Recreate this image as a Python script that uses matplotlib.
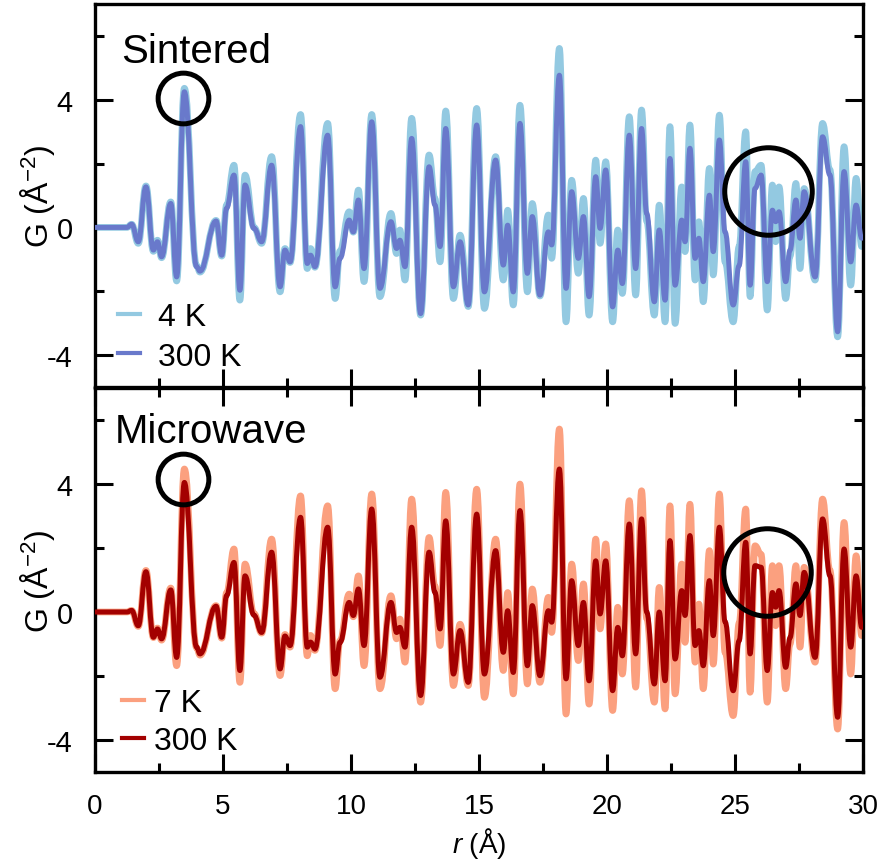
import matplotlib
matplotlib.use("Agg")
import matplotlib.pyplot as plt
from matplotlib.path import Path
from matplotlib.patches import PathPatch
from matplotlib.lines import Line2D
from matplotlib.ticker import MultipleLocator

plt.rcParams['font.family'] = ['Liberation Sans', 'DejaVu Sans']
plt.rcParams['mathtext.fontset'] = 'custom'
plt.rcParams['mathtext.rm'] = 'Liberation Sans'
plt.rcParams['mathtext.it'] = 'Liberation Sans:italic'
plt.rcParams['mathtext.bf'] = 'Liberation Sans:bold'
plt.rcParams['axes.unicode_minus'] = False

# ---------------- data (extrema) ----------------
r_sint = [0.0, 1.25, 1.43, 1.69, 1.99, 2.28, 2.44, 2.60, 2.96, 3.19, 3.49, 3.97, 4.10, 4.73, 4.95,
          5.14, 5.43, 5.66, 5.86, 6.21, 6.51, 6.90, 7.23, 7.42, 7.62, 8.03, 8.29, 8.42, 8.59, 9.09,
          9.38, 9.57, 9.93, 10.09, 10.29, 10.51, 10.81, 11.13, 11.56, 11.78, 11.91, 12.11, 12.37,
          12.72, 13.05, 13.28, 13.48, 13.70, 14.00, 14.26, 14.58, 14.91, 15.21, 15.65, 15.95, 16.12,
          16.34, 16.60, 16.89, 17.08, 17.38, 17.71, 17.84, 18.14, 18.40, 18.62, 18.88, 19.08, 19.30,
          19.56, 19.73, 19.95, 20.22, 20.42, 20.60, 20.87, 21.12, 21.35, 21.55, 21.85, 22.04, 22.27,
          22.46, 22.66, 22.92, 23.05, 23.24, 23.44, 23.59, 23.76, 24.00, 24.15, 24.39, 24.61, 24.93,
          25.16, 25.42, 25.59, 25.78, 26.02, 26.26, 26.46, 26.59, 26.72, 26.98, 27.15, 27.38, 27.54,
          27.70, 28.13, 28.42, 28.71, 29.01, 29.26, 29.52, 29.73, 29.95]
g_sint_300K = [0, 0, 0.1, -0.45, 1.27, -0.71, -0.45, -0.92, 0.75, -1.55, 4.25, -1.23, -1.37, 0.20, -0.87,
               0.60, 1.64, -1.97, 1.33, -0.03, -0.45, 1.95, -1.86, -0.71, -1.08, 3.16, -1.13, -0.87, -1.23, 2.89,
               -1.86, -0.97, 0.23, -0.14, 0.86, -1.29, 3.31, -1.91, 0.18, -0.66, -0.40, -1.23, 2.79,
               -2.70, 1.90, 0.70, -0.60, 3.10, -1.86, -0.45, -2.43, 3.21, -2.02, 2.11, -1.18, 0.07,
               -2.02, 3.26, -1.44, 0.34, -2.12, -0.14, -0.55, 4.77, -1.91, 1.12, -0.97, 0.34, -2.17,
               1.59, -0.03, 1.80, -2.49, -0.71, -1.76, 2.89, -1.29, 3.10, 0.44, -2.33, -0.08, -2.28,
               2.16, -1.81, 0.23, -0.45, 2.48, -0.97, -0.34, -1.70, 1.01, -0.76, 2.74, -0.14, -2.43,
               -1.20, 2.06, -1.81, 1.22, 1.64, -1.70, 0.54, 0.18, 0.49, -1.70, -0.71, 0.86, -0.34,
               1.12, -1.55, 2.84, 1.64, -3.27, 1.75, -1.08, 0.70, -0.34]
g_sint_4K = [0, 0, 0.1, -0.50, 1.30, -0.75, -0.40, -0.95, 0.80, -1.68, 4.36, -1.20, -1.40, 0.22, -0.90,
             0.70, 1.95, -2.28, 1.64, 0.00, -0.50, 2.22, -2.02, -0.66, -1.10, 3.54, -1.29, -0.66, -1.25, 3.26,
             -2.23, -0.74, 0.49, -0.15, 1.17, -1.70, 3.54, -2.17, 0.44, -0.82, -0.08, -1.65, 3.42,
             -2.75, 2.27, 0.90, -1.08, 3.65, -2.23, -0.24, -2.48, 3.73, -2.54, 2.22, -1.65, 0.54,
             -2.43, 3.83, -2.02, 0.75, -2.15, 0.39, -0.97, 5.61, -2.96, 1.48, -1.44, 0.91, -2.75,
             2.11, -0.50, 2.06, -2.96, -0.08, -2.07, 3.47, -2.12, 3.68, 0.20, -2.75, 0.70, -2.96,
             3.16, -3.01, 1.27, -0.76, 3.21, -1.65, 0.18, -2.33, 1.85, -1.49, 3.52, -1.08, -2.96,
             -0.60, 3.00, -2.17, 1.75, 1.95, -2.59, 1.33, -0.45, 1.27, -2.23, -0.90, 1.38, -1.29,
             1.22, -1.65, 3.26, 1.80, -3.43, 2.53, -1.81, 1.54, -0.60]

r_micro = [0.0, 1.25, 1.43, 1.69, 1.99, 2.28, 2.44, 2.60, 2.96, 3.19, 3.49, 3.97, 4.10, 4.73, 4.95,
           5.14, 5.43, 5.66, 5.86, 6.21, 6.51, 6.90, 7.23, 7.42, 7.62, 8.03, 8.29, 8.42, 8.59, 9.09,
           9.38, 9.57, 9.93, 10.09, 10.29, 10.51, 10.81, 11.13, 11.56, 11.78, 11.91, 12.11, 12.37,
           12.72, 13.05, 13.28, 13.48, 13.70, 14.00, 14.26, 14.58, 14.91, 15.21, 15.65, 15.95, 16.12,
           16.34, 16.60, 16.89, 17.08, 17.38, 17.71, 17.84, 18.14, 18.40, 18.62, 18.88, 19.08, 19.30,
           19.56, 19.73, 19.95, 20.22, 20.42, 20.60, 20.87, 21.12, 21.35, 21.55, 21.85, 22.04, 22.27,
           22.46, 22.66, 22.92, 23.05, 23.24, 23.44, 23.59, 23.76, 24.00, 24.15, 24.39, 24.61, 24.93,
           25.16, 25.42, 25.59, 25.78, 26.02, 26.26, 26.46, 26.59, 26.72, 26.98, 27.15, 27.38, 27.54,
           27.70, 28.13, 28.42, 28.71, 29.01, 29.26, 29.52, 29.73, 29.95]
g_micro_300K = [0, 0, 0.05, -0.43, 1.26, -0.79, -0.53, -0.84, 0.69, -1.42, 4.05, -1.10, -1.31, 0.18, -0.79,
                0.51, 1.55, -1.83, 1.13, -0.10, -0.64, 1.87, -1.78, -0.75, -1.05, 2.96, -1.10, -0.94, -1.16, 2.65,
                -1.94, -0.95, 0.30, -0.11, 0.72, -1.05, 3.22, -2.04, 0.30, -0.64, -0.48, -1.10, 2.65,
                -2.61, 1.87, 0.61, -0.53, 2.85, -1.94, -0.58, -2.20, 3.06, -1.94, 1.92, -1.26, 0.04,
                -1.89, 3.17, -1.68, 0.20, -1.99, 0.04, -0.32, 4.47, -2.09, 0.98, -1.05, 0.30, -2.15,
                1.60, -0.06, 1.60, -2.46, -0.48, -1.37, 2.75, -1.31, 2.91, 0.00, -2.25, 0.00, -2.15,
                2.23, -1.47, 0.67, -0.11, 2.39, -1.05, -0.58, -1.68, 0.98, -0.74, 2.65, -0.30, -2.46,
                -0.90, 2.18, -1.31, 1.45, 1.40, -1.83, 0.61, 0.15, 0.67, -1.73, -0.80, 0.88, -0.11,
                1.24, -1.42, 2.91, 1.13, -3.29, 1.97, -1.10, 1.13, -0.48]
g_micro_7K = [0, 0, 0.05, -0.45, 1.30, -0.80, -0.50, -0.88, 0.75, -1.68, 4.47, -1.12, -1.35, 0.20, -0.82,
              0.60, 1.97, -2.20, 1.50, -0.05, -0.66, 2.28, -1.99, -0.70, -1.10, 3.63, -1.37, -0.73, -1.20, 3.32,
              -2.40, -0.90, 0.56, -0.15, 1.13, -1.68, 3.69, -2.40, 0.51, -0.84, -0.22, -1.57, 3.53,
              -2.82, 2.33, 0.80, -1.05, 3.74, -2.30, -0.38, -2.30, 3.84, -2.67, 2.28, -1.83, 0.61,
              -2.56, 4.00, -2.25, 0.72, -2.20, 0.46, -0.64, 5.72, -3.19, 1.50, -1.52, 0.88, -2.88,
              2.28, -0.53, 2.13, -3.08, 0.15, -1.94, 3.48, -2.35, 3.79, -0.20, -2.82, 0.77, -3.03,
              3.32, -2.56, 1.50, -0.95, 3.37, -1.57, 0.25, -2.40, 1.92, -1.63, 3.69, -1.26, -3.24,
              -0.35, 3.22, -2.51, 2.07, 1.80, -2.82, 1.45, -0.43, 1.45, -2.40, -1.00, 1.45, -1.10,
              1.40, -1.57, 3.53, 1.30, -3.66, 2.80, -1.94, 1.76, -0.74]

panel_names = ["Sintered", "Microwave"]
labels_sint = ["4 K", "300 K"]
labels_micro = ["7 K", "300 K"]
xticks = [0, 5, 10, 15, 20, 25, 30]
yticks = [-4, 0, 4]

# ---------------- style ----------------
C_LIGHT_BLUE = "#93C9E1"
C_BLUE = "#6979CB"
C_SALMON = "#FBA07F"
C_RED = "#A30000"

W, H = 889, 862
fig = plt.figure(figsize=(W / 100, H / 100), dpi=100)
left, right = 95 / W, 863 / W
ax_top = fig.add_axes([left, 1 - 388 / H, right - left, (388 - 5) / H])
ax_bot = fig.add_axes([left, 1 - 773 / H, right - left, (773 - 389) / H])


def smooth_path(x, y, k=0.42):
    verts = [(x[0], y[0])]
    codes = [Path.MOVETO]
    for i in range(len(x) - 1):
        dx = x[i + 1] - x[i]
        verts += [(x[i] + k * dx, y[i]), (x[i + 1] - k * dx, y[i + 1]), (x[i + 1], y[i + 1])]
        codes += [Path.CURVE4] * 3
    return Path(verts, codes)


def draw_curve(ax, x, y, color, lw, z):
    p = PathPatch(smooth_path(x, y), facecolor='none', edgecolor=color, lw=lw,
                  joinstyle='round', capstyle='round', zorder=z)
    ax.add_patch(p)


def style_axes(ax, top_ticks):
    ax.set_xlim(0, 30)
    ax.set_ylim(-5, 7)
    ax.xaxis.set_major_locator(MultipleLocator(5))
    ax.xaxis.set_minor_locator(MultipleLocator(2.5))
    ax.set_yticks(yticks)
    ax.yaxis.set_minor_locator(MultipleLocator(2))
    ax.tick_params(which='both', direction='in', width=2.2, left=True, right=True,
                   bottom=True, top=top_ticks, labelsize=21)
    ax.tick_params(which='major', length=13)
    ax.tick_params(which='minor', length=6.5)
    ax.tick_params(axis='y', pad=16)
    ax.tick_params(axis='x', pad=15, labelsize=20)
    for s in ax.spines.values():
        s.set_linewidth(2.4)
    ax.set_ylabel("G (Å$^{-2}$)", fontsize=23)
    ax.yaxis.set_label_coords(-0.05, 0.5)


# top panel
draw_curve(ax_top, r_sint, g_sint_4K, C_LIGHT_BLUE, 4.8, 2)
draw_curve(ax_top, r_sint, g_sint_300K, C_BLUE, 3.6, 3)
style_axes(ax_top, top_ticks=False)
ax_top.set_xticklabels([])
ax_top.text(0.034, 0.877, panel_names[0], transform=ax_top.transAxes, fontsize=29,
            ha='left', va='center')
h1 = [Line2D([], [], color=C_LIGHT_BLUE, lw=3), Line2D([], [], color=C_BLUE, lw=3)]
ax_top.legend(h1, labels_sint, loc='lower left', bbox_to_anchor=(0.03, 0.04), frameon=False,
              fontsize=23, handlelength=0.7, handletextpad=0.55, labelspacing=0.3,
              borderpad=0, borderaxespad=0)
ax_top.plot([3.45], [4.04], 'o', mfc='none', mec='black', ms=36.5, mew=3.6, zorder=5, clip_on=False)
ax_top.plot([26.3], [1.14], 'o', mfc='none', mec='black', ms=63, mew=3.6, zorder=5, clip_on=False)

# bottom panel
draw_curve(ax_bot, r_micro, g_micro_7K, C_SALMON, 4.8, 2)
draw_curve(ax_bot, r_micro, g_micro_300K, C_RED, 3.6, 3)
style_axes(ax_bot, top_ticks=True)
ax_bot.set_xticks(xticks)
ax_bot.set_xticklabels([str(t) for t in xticks])
ax_bot.text(0.026, 0.888, panel_names[1], transform=ax_bot.transAxes, fontsize=29,
            ha='left', va='center')
h2 = [Line2D([], [], color=C_SALMON, lw=3), Line2D([], [], color=C_RED, lw=3)]
ax_bot.legend(h2, labels_micro, loc='lower left', bbox_to_anchor=(0.035, 0.042), frameon=False,
              fontsize=23, handlelength=0.7, handletextpad=0.3, labelspacing=0.25,
              borderpad=0, borderaxespad=0)
ax_bot.plot([3.44], [4.16], 'o', mfc='none', mec='black', ms=36.5, mew=3.6, zorder=5, clip_on=False)
ax_bot.plot([26.24], [1.24], 'o', mfc='none', mec='black', ms=63, mew=3.6, zorder=5, clip_on=False)
ax_bot.set_xlabel("$r$ (Å)", fontsize=20)
ax_bot.xaxis.set_label_coords(0.5, -0.137)

fig.savefig("out.png", dpi=100)
